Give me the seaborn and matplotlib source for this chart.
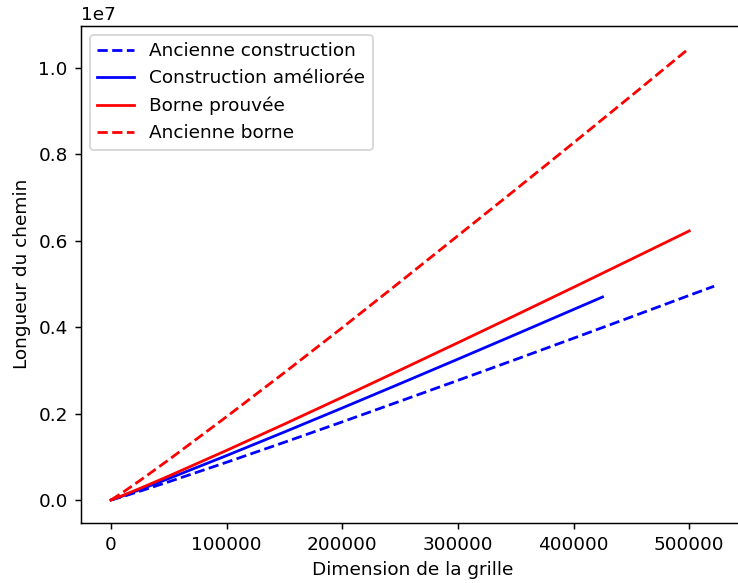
import matplotlib
matplotlib.use("Agg")
import matplotlib.pyplot as plt
import seaborn as sns
import pandas as pd

# Data
x_old_constr = [0, 10000, 25000, 50000, 100000, 150000, 200000, 250000, 300000,
                350000, 400000, 450000, 500000, 521500]
y_old_constr = [0, 0.078e6, 0.204e6, 0.422e6, 0.874e6, 1.337e6, 1.809e6, 2.288e6,
                2.770e6, 3.255e6, 3.746e6, 4.240e6, 4.738e6, 4.95e6]

x_new_constr = [0, 10000, 25000, 50000, 100000, 150000, 200000, 250000, 300000,
                350000, 400000, 425000]
y_new_constr = [0, 0.092e6, 0.240e6, 0.497e6, 1.029e6, 1.575e6, 2.131e6, 2.694e6,
                3.262e6, 3.834e6, 4.412e6, 4.70e6]

x_bound = [0, 10000, 25000, 50000, 100000, 150000, 200000, 250000, 300000,
           350000, 400000, 450000, 500000]
y_proved = [0, 0.102e6, 0.268e6, 0.555e6, 1.149e6, 1.758e6, 2.379e6, 3.008e6,
            3.642e6, 4.280e6, 4.925e6, 5.576e6, 6.23e6]
y_old_bound = [0, 0.172e6, 0.450e6, 0.932e6, 1.93e6, 2.95e6, 3.99e6, 5.05e6,
               6.12e6, 7.19e6, 8.27e6, 9.36e6, 10.46e6]

labels = ["Ancienne construction", "Construction améliorée", "Borne prouvée", "Ancienne borne"]

dpi = 133
fig = plt.figure(figsize=(738 / dpi, 583 / dpi), dpi=dpi)
ax = fig.add_axes([80.8 / 738, 60.4 / 583, (744.3 - 80.8) / 738, 497 / 583])

sns.lineplot(x=x_old_constr, y=y_old_constr, ax=ax, color="blue", linestyle="--", label=labels[0])
sns.lineplot(x=x_new_constr, y=y_new_constr, ax=ax, color="blue", linestyle="-", label=labels[1])
sns.lineplot(x=x_bound, y=y_proved, ax=ax, color="red", linestyle="-", label=labels[2])
sns.lineplot(x=x_bound, y=y_old_bound, ax=ax, color="red", linestyle="--", label=labels[3])

ax.set_xlabel("Dimension de la grille")
ax.set_ylabel("Longueur du chemin")
ax.legend(loc="upper left")

fig.savefig("out.png", dpi=dpi)
